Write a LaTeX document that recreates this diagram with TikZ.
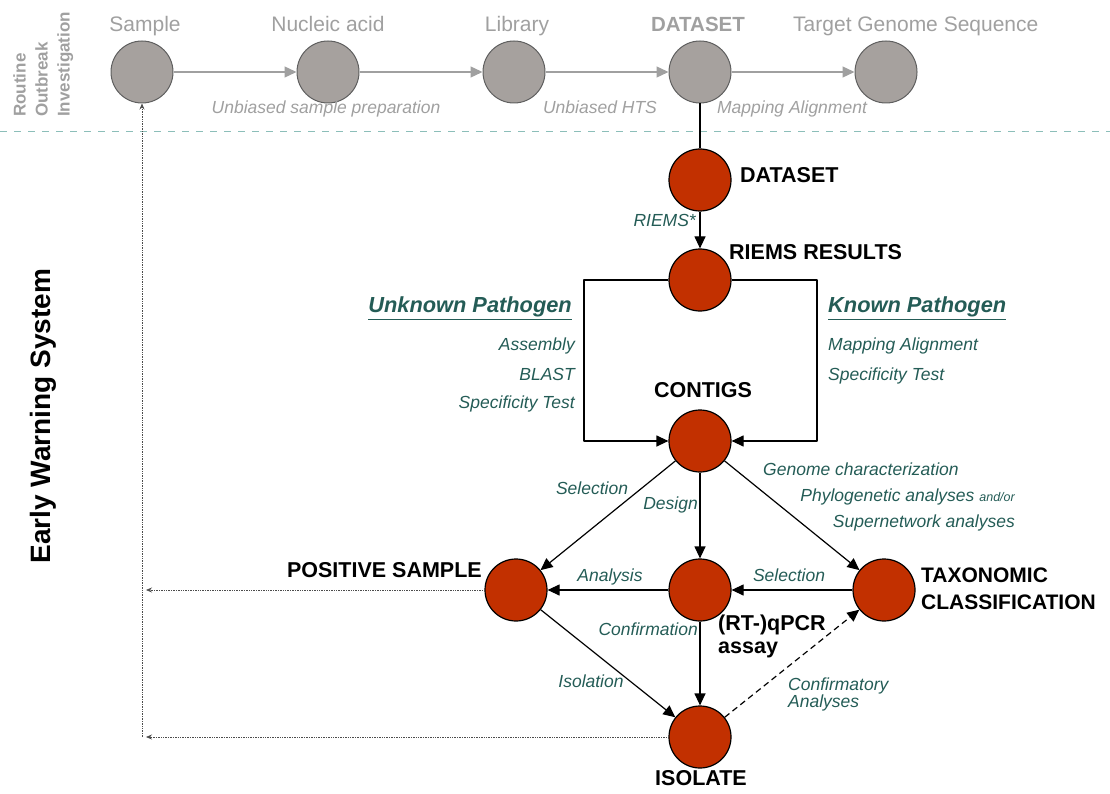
\documentclass[tikz,border=0pt]{standalone}
\usepackage{fontspec}
\setmainfont{Liberation Sans}
\usepackage{xcolor}
\usepackage{tikz}
\usetikzlibrary{arrows.meta,positioning,calc}

\definecolor{topgray}{RGB}{166,161,158}
\definecolor{topedge}{RGB}{95,95,95}
\definecolor{toptext}{RGB}{160,160,160}
\definecolor{samplered}{RGB}{194,48,0}
\definecolor{labelteal}{RGB}{36,92,86}
\definecolor{splitteal}{RGB}{140,190,185}

\begin{document}
\begin{tikzpicture}[
      x=1pt,
      y=-1pt,
      line join=round,
      graynode/.style={circle, draw=topedge, fill=topgray, line width=1pt,
        minimum size=62pt, inner sep=0pt},
      rednode/.style={circle, draw=black, fill=samplered, line width=1.2pt,
        minimum size=62pt, inner sep=0pt},
      graytitle/.style={text=toptext, font=\fontsize{21}{24}\selectfont, inner sep=0pt},
      grayhint/.style={text=toptext, font=\itshape\fontsize{17.5}{20}\selectfont, inner sep=0pt},
      redtitle/.style={font=\bfseries\fontsize{21.5}{24}\selectfont, inner sep=0pt, align=left},
      tealhint/.style={text=labelteal, font=\itshape\fontsize{17.5}{20}\selectfont,
        inner sep=0pt, align=left},
      tealhead/.style={text=labelteal, font=\bfseries\itshape\fontsize{21.8}{24}\selectfont,
        inner xsep=0pt, inner ysep=2pt},
      grayflow/.style={draw=toptext, line width=1.3pt, -{Triangle[length=12pt,width=11pt]}},
      redflow/.style={draw=black, line width=1.2pt, -{Triangle[length=12pt,width=11pt]}},
      returnflow/.style={draw=black!70, line width=0.7pt, densely dotted,
        -{Stealth[length=6pt,width=5pt]}}
    ]
      \useasboundingbox (0,0) rectangle (1110,794);

      % Routine outbreak investigation: the gray chain along the top.
      \foreach \name [count=\idx from 0] in {sample,nucleic,library,dataset,target} {
        \node[graynode] (top-\name) at ({142+186*\idx},72) {};
      }
      \foreach \from/\to in {sample/nucleic,nucleic/library,library/dataset,dataset/target} {
        \draw[grayflow] (top-\from) -- (top-\to);
      }
      \node[graytitle, anchor=base] (title-sample) at (145,32) {Sample};
      \node[graytitle, anchor=base] (title-nucleic) at (328,32) {Nucleic acid};
      \node[graytitle, anchor=base] (title-library) at (517,32) {Library};
      \node[graytitle, anchor=base, font=\bfseries\fontsize{20.5}{24}\selectfont]
        (title-dataset) at (698,32) {DATASET};
      \node[graytitle, anchor=base west] (title-target) at (793,32) {Target Genome Sequence};
      \node[grayhint, anchor=mid] (hint-prep) at (326,111) {Unbiased sample preparation};
      \node[grayhint, anchor=mid] (hint-hts) at (600,111) {Unbiased HTS};
      \node[grayhint, anchor=mid] (hint-mapping) at (792,111) {Mapping Alignment};
      \node[text=toptext, font=\bfseries\fontsize{17}{22}\selectfont, align=left,
        rotate=90, anchor=north west, inner sep=0pt]
        (routine-title) at (13,117) {Routine\\Outbreak\\Investigation};

      % The dashed border between the two systems.
      \draw[splitteal, line width=1pt, dash pattern=on 7pt off 7pt] (0,132) -- (1110,132);

      \node[font=\bfseries\fontsize{28}{30}\selectfont, rotate=90, inner sep=0pt]
        (warning-title) at (43,416) {Early Warning System};

      % Early warning system: the red nodes.
      \node[rednode] (red-dataset) at (700,180) {};
      \node[rednode] (riems) at (700,280) {};
      \node[rednode] (contigs) at (700,441) {};
      \node[rednode] (positive) at (516,590) {};
      \node[rednode] (qpcr) at (700,590) {};
      \node[rednode] (taxonomic) at (884,590) {};
      \node[rednode] (isolate) at (700,737) {};

      \node[redtitle, anchor=mid west] (red-dataset-title) at (740,180) {DATASET};
      \node[redtitle, anchor=mid west] (riems-title) at (729,257) {RIEMS RESULTS};
      \node[redtitle, anchor=mid] (contigs-title) at (703,395) {CONTIGS};
      \node[redtitle, anchor=mid east] (positive-title) at (482,575) {POSITIVE SAMPLE};
      \node[redtitle, anchor=west, font=\bfseries\fontsize{21}{27}\selectfont]
        (taxonomic-title) at (921,589) {TAXONOMIC\\CLASSIFICATION};
      \node[redtitle, anchor=north west, font=\bfseries\fontsize{21.5}{23}\selectfont]
        (qpcr-title) at (718,615) {(RT-)qPCR\\assay};
      \node[redtitle, anchor=mid] (isolate-title) at (701,783) {ISOLATE};

      % Connectors between the red nodes.
      \draw[line width=1.2pt] (top-dataset) -- (red-dataset);
      \draw[redflow] (red-dataset) -- (riems);
      \coordinate (unknown-top) at (584,280);
      \coordinate (unknown-bottom) at (584,441);
      \coordinate (known-top) at (817,280);
      \coordinate (known-bottom) at (817,441);
      \draw[redflow] (riems) -- (unknown-top) -- (unknown-bottom) -- (contigs);
      \draw[redflow] (riems) -- (known-top) -- (known-bottom) -- (contigs);
      \draw[redflow] (contigs) -- (positive);
      \draw[redflow] (contigs) -- (qpcr);
      \draw[redflow] (contigs) -- (taxonomic);
      \draw[redflow] (taxonomic) -- (qpcr);
      \draw[redflow] (qpcr) -- (positive);
      \draw[redflow] (positive) -- (isolate);
      \draw[redflow] (qpcr) -- (isolate);
      \draw[redflow, dash pattern=on 6pt off 4pt] (isolate) -- (taxonomic);

      % Dotted returns to the sample of the routine chain.
      \coordinate (return-mid) at (142,590);
      \coordinate (return-low) at (142,737);
      \draw[returnflow] (positive) -- ([xshift=4pt]return-mid);
      \draw[returnflow] (isolate) -- ([xshift=4pt]return-low);
      \draw[returnflow] (return-low) -- (top-sample);

      % Teal labels of the steps.
      \node[tealhint, anchor=mid east] (hint-riems) at (696,224) {RIEMS*};
      \node[tealhead, anchor=mid east] (unknown-head) at (572,310) {Unknown Pathogen};
      \node[tealhead, anchor=mid west] (known-head) at (828,310) {Known Pathogen};
      \draw[labelteal, line width=1.5pt] (unknown-head.south west) -- (unknown-head.south east);
      \draw[labelteal, line width=1.5pt] (known-head.south west) -- (known-head.south east);
      \node[tealhint, anchor=mid east] (hint-assembly) at (575,348) {Assembly};
      \node[tealhint, anchor=mid east] (hint-blast) at (575,378) {BLAST};
      \node[tealhint, anchor=mid east] (hint-unknown-test) at (575,406) {Specificity Test};
      \node[tealhint, anchor=mid west] (hint-known-mapping) at (828,348) {Mapping Alignment};
      \node[tealhint, anchor=mid west] (hint-known-test) at (828,378) {Specificity Test};
      \node[tealhint, anchor=mid] (hint-select-left) at (592,492) {Selection};
      \node[tealhint, anchor=mid east] (hint-design) at (698,507) {Design};
      \node[tealhint, anchor=mid west] (hint-genome) at (763,473) {Genome characterization};
      \node[tealhint, anchor=mid east] (hint-phylo) at (1015,499)
        {Phylogenetic analyses {\fontsize{12.5}{14}\selectfont and/or}};
      \node[tealhint, anchor=mid east] (hint-network) at (1015,525) {Supernetwork analyses};
      \node[tealhint, anchor=mid] (hint-select-right) at (789,579) {Selection};
      \node[tealhint, anchor=mid] (hint-analysis) at (610,579) {Analysis};
      \node[tealhint, anchor=mid east] (hint-confirm) at (698,633) {Confirmation};
      \node[tealhint, anchor=mid] (hint-isolation) at (591,685) {Isolation};
      \node[tealhint, anchor=west, font=\itshape\fontsize{17.5}{17}\selectfont]
        (hint-confirmatory) at (788,694) {Confirmatory\\Analyses};
    \end{tikzpicture}
\end{document}
